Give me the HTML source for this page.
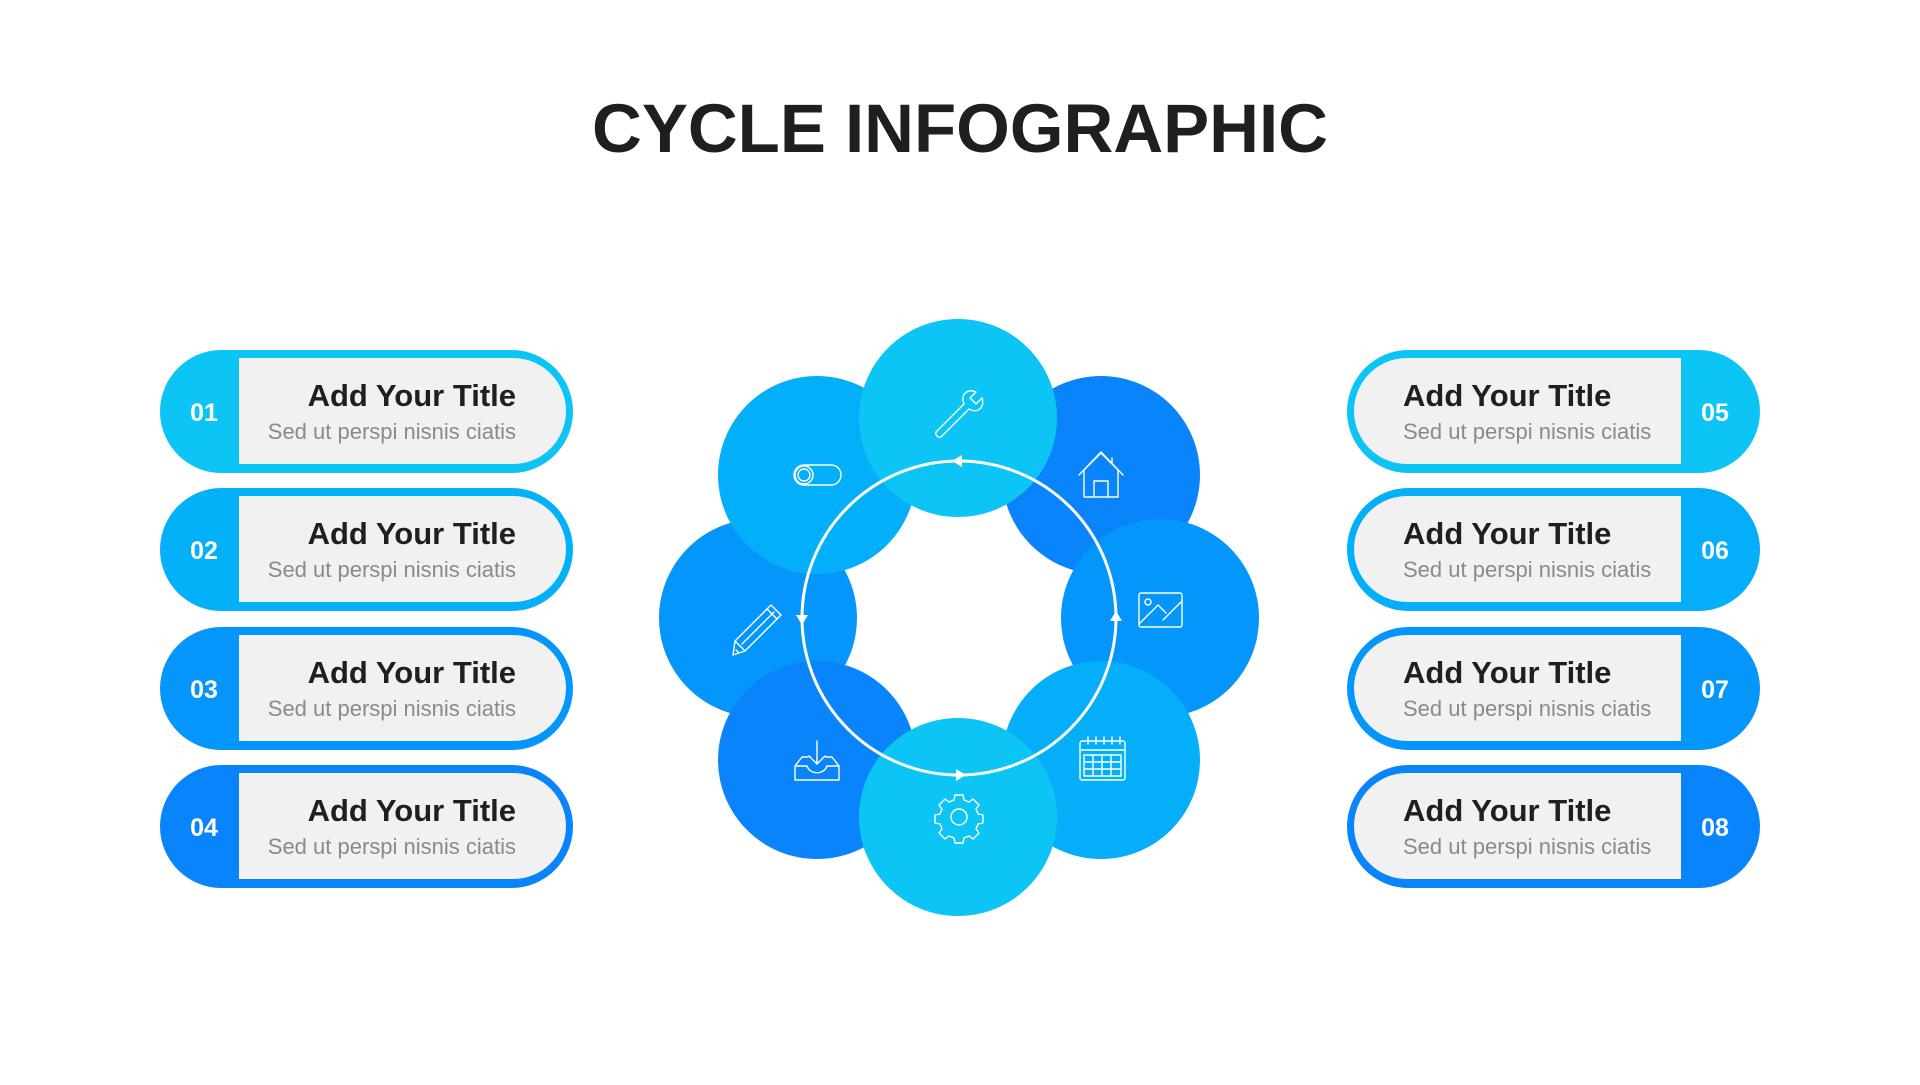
<!DOCTYPE html>
<html><head><meta charset="utf-8"><style>
html,body{margin:0;padding:0;background:#fff;}
body{width:1920px;height:1080px;overflow:hidden;font-family:"Liberation Sans",sans-serif;}
</style></head><body>
<svg width="1920" height="1080" viewBox="0 0 1920 1080" xmlns="http://www.w3.org/2000/svg">
<text x="960" y="152" text-anchor="middle" font-family="Liberation Sans, sans-serif" font-weight="700" font-size="69" fill="#1f1f1f">CYCLE INFOGRAPHIC</text>

<g font-family="Liberation Sans, sans-serif">
<g>
<rect x="160" y="350" width="413" height="123" rx="61.5" fill="#0cc5f5"/>
<path d="M239 358 H513 A53 53 0 0 1 513 464 H239 Z" fill="#f1f1f1"/>
<text x="204" y="421" text-anchor="middle" font-size="25" font-weight="700" fill="#fff">01</text>
<text x="516" y="406" text-anchor="end" font-size="31" font-weight="700" fill="#1f1f1f">Add Your Title</text>
<text x="516" y="439" text-anchor="end" font-size="22" fill="#8a8a8a">Sed ut perspi nisnis ciatis</text>
</g>
<g transform="translate(0,138)">
<rect x="160" y="350" width="413" height="123" rx="61.5" fill="#04b0f8"/>
<path d="M239 358 H513 A53 53 0 0 1 513 464 H239 Z" fill="#f1f1f1"/>
<text x="204" y="421" text-anchor="middle" font-size="25" font-weight="700" fill="#fff">02</text>
<text x="516" y="406" text-anchor="end" font-size="31" font-weight="700" fill="#1f1f1f">Add Your Title</text>
<text x="516" y="439" text-anchor="end" font-size="22" fill="#8a8a8a">Sed ut perspi nisnis ciatis</text>
</g>
<g transform="translate(0,277)">
<rect x="160" y="350" width="413" height="123" rx="61.5" fill="#0596fb"/>
<path d="M239 358 H513 A53 53 0 0 1 513 464 H239 Z" fill="#f1f1f1"/>
<text x="204" y="421" text-anchor="middle" font-size="25" font-weight="700" fill="#fff">03</text>
<text x="516" y="406" text-anchor="end" font-size="31" font-weight="700" fill="#1f1f1f">Add Your Title</text>
<text x="516" y="439" text-anchor="end" font-size="22" fill="#8a8a8a">Sed ut perspi nisnis ciatis</text>
</g>
<g transform="translate(0,415)">
<rect x="160" y="350" width="413" height="123" rx="61.5" fill="#0a84fb"/>
<path d="M239 358 H513 A53 53 0 0 1 513 464 H239 Z" fill="#f1f1f1"/>
<text x="204" y="421" text-anchor="middle" font-size="25" font-weight="700" fill="#fff">04</text>
<text x="516" y="406" text-anchor="end" font-size="31" font-weight="700" fill="#1f1f1f">Add Your Title</text>
<text x="516" y="439" text-anchor="end" font-size="22" fill="#8a8a8a">Sed ut perspi nisnis ciatis</text>
</g>

<g>
<rect x="1347" y="350" width="413" height="123" rx="61.5" fill="#0cc5f5"/>
<path d="M1681 358 H1407 A53 53 0 0 0 1407 464 H1681 Z" fill="#f1f1f1"/>
<text x="1715" y="421" text-anchor="middle" font-size="25" font-weight="700" fill="#fff">05</text>
<text x="1403" y="406" font-size="31" font-weight="700" fill="#1f1f1f">Add Your Title</text>
<text x="1403" y="439" font-size="22" fill="#8a8a8a">Sed ut perspi nisnis ciatis</text>
</g>
<g transform="translate(0,138)">
<rect x="1347" y="350" width="413" height="123" rx="61.5" fill="#04aef9"/>
<path d="M1681 358 H1407 A53 53 0 0 0 1407 464 H1681 Z" fill="#f1f1f1"/>
<text x="1715" y="421" text-anchor="middle" font-size="25" font-weight="700" fill="#fff">06</text>
<text x="1403" y="406" font-size="31" font-weight="700" fill="#1f1f1f">Add Your Title</text>
<text x="1403" y="439" font-size="22" fill="#8a8a8a">Sed ut perspi nisnis ciatis</text>
</g>
<g transform="translate(0,277)">
<rect x="1347" y="350" width="413" height="123" rx="61.5" fill="#0596fb"/>
<path d="M1681 358 H1407 A53 53 0 0 0 1407 464 H1681 Z" fill="#f1f1f1"/>
<text x="1715" y="421" text-anchor="middle" font-size="25" font-weight="700" fill="#fff">07</text>
<text x="1403" y="406" font-size="31" font-weight="700" fill="#1f1f1f">Add Your Title</text>
<text x="1403" y="439" font-size="22" fill="#8a8a8a">Sed ut perspi nisnis ciatis</text>
</g>
<g transform="translate(0,415)">
<rect x="1347" y="350" width="413" height="123" rx="61.5" fill="#0a84fb"/>
<path d="M1681 358 H1407 A53 53 0 0 0 1407 464 H1681 Z" fill="#f1f1f1"/>
<text x="1715" y="421" text-anchor="middle" font-size="25" font-weight="700" fill="#fff">08</text>
<text x="1403" y="406" font-size="31" font-weight="700" fill="#1f1f1f">Add Your Title</text>
<text x="1403" y="439" font-size="22" fill="#8a8a8a">Sed ut perspi nisnis ciatis</text>
</g>
</g>

<circle cx="1101" cy="475" r="99" fill="#0a84fb"/>
<circle cx="1160" cy="618" r="99" fill="#0596fb"/>
<circle cx="1101" cy="760" r="99" fill="#04aef9"/>
<circle cx="758" cy="618" r="99" fill="#0596fb"/>
<circle cx="817" cy="475" r="99" fill="#03aff9"/>
<circle cx="817" cy="760" r="99" fill="#0a84fb"/>
<circle cx="958" cy="418" r="99" fill="#0cc5f5"/>
<circle cx="958" cy="817" r="99" fill="#0cc5f5"/>

<circle cx="959" cy="618" r="157" fill="none" stroke="#fff" stroke-width="3"/>
<polygon points="952,461 962,455 962,467" fill="#fff"/>
<polygon points="802,625 796,615 808,615" fill="#fff"/>
<polygon points="966,775 956,769 956,781" fill="#fff"/>
<polygon points="1116,611 1110,621 1122,621" fill="#fff"/>

<g fill="none" stroke="#fff" stroke-width="1.4" stroke-linejoin="round" stroke-linecap="round">
<path d="M936 432 L964 404 M941 437 L969 409 M936 432 A4 4 0 0 0 941 437 M964 404 C960 394 968 388 976 392 L970 398 L976 404 L982 398 C985 407 978 414 969 409"/>
<rect x="794" y="465" width="47" height="20" rx="10"/>
<circle cx="804" cy="475" r="9"/><circle cx="804" cy="475" r="6"/>
<path d="M1084 497 V470 L1101 453 L1118 470 V497 Z M1079 475 L1101 452 L1123 475 M1094 497 V481 H1108 V497 M1112 458 V463"/>
<rect x="1139" y="593" width="43" height="34" rx="2"/>
<circle cx="1148" cy="602" r="3"/>
<path d="M1139 624 L1158 605 L1166 613 M1163 620 L1182 601"/>
<rect x="1080" y="741" width="45" height="39" rx="2"/>
<path d="M1080 750 H1125 M1084 755 H1121 V776 H1084 Z M1084 762 H1121 M1084 769 H1121 M1093 755 V776 M1102 755 V776 M1111 755 V776 M1088 737 V744 M1096 737 V744 M1104 737 V744 M1112 737 V744 M1120 737 V744"/>
<circle cx="959" cy="817" r="8"/>
<path d="M955 795 H963 L964 800 L969 802 L973 799 L979 805 L976 809 L978 814 L983 815 V823 L978 824 L976 829 L979 833 L973 839 L969 836 L964 838 L963 843 H955 L954 838 L949 836 L945 839 L939 833 L942 829 L940 824 L935 823 V815 L940 814 L942 809 L939 805 L945 799 L949 802 L954 800 Z"/>
<path d="M795 766 L802 757 H808 M826 757 H832 L839 766 M795 766 V780 H839 V766 H827 C824 775 810 775 807 766 Z M817 741 V764 M809 756 L817 764 L825 756"/>
<path d="M735 641 L771 605 L781 615 L745 651 Z M735 641 L733 655 L745 651 M767 609 L777 619 M742 644 L774 612 M736 650 L739 653"/>
</g>
</svg>
</body></html>
